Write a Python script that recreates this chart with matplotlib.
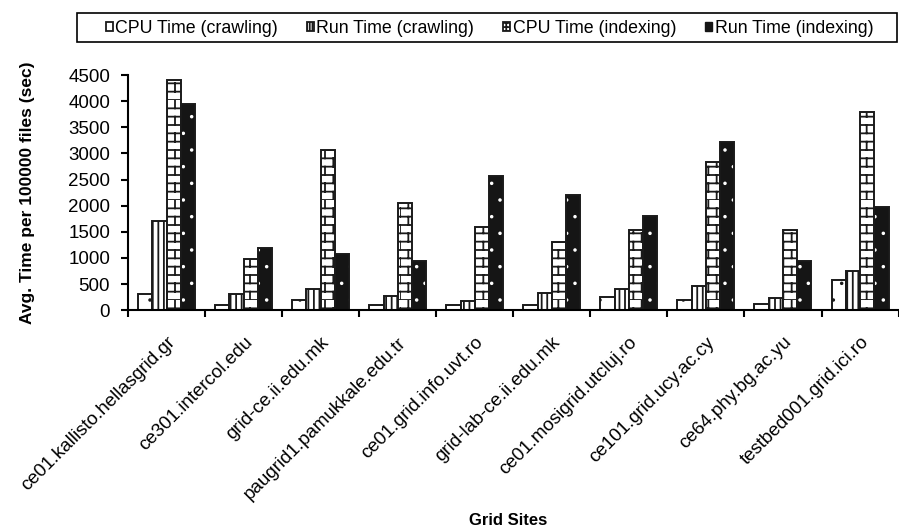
import matplotlib.pyplot as plt
import matplotlib.hatch as mhatch
import matplotlib.transforms as mtrans
import numpy as np
from matplotlib.patches import Patch, Rectangle
from matplotlib.path import Path

plt.rcParams['font.family'] = ['Liberation Sans', 'DejaVu Sans']
plt.rcParams['hatch.linewidth'] = 1.3


# brick pattern ('b') and tiny sparse dots ('d') as extra hatch styles
class Bricks(mhatch.HatchPatternBase):
    def __init__(self, hatch, density):
        self.num_rows = hatch.count('b') * density
        self.num_cols = self.num_rows // 2
        self.num_vertices = self.num_rows * 2 * (1 + self.num_cols)

    def set_vertices_and_codes(self, vertices, codes):
        n, m = self.num_rows, self.num_cols
        v = []
        for i in range(n):
            y0, y1 = i / n, (i + 1) / n
            v += [(0, y0), (1, y0)]
            sh = 0.5 if i % 2 else 0.0
            for k in range(m):
                xx = (k + sh) / m
                v += [(xx, y0), (xx, y1)]
        vertices[:] = v
        codes[0::2] = Path.MOVETO
        codes[1::2] = Path.LINETO


class TinyDots(mhatch.Circles):
    size = 0.05
    filled = True

    def __init__(self, hatch, density):
        self.num_rows = hatch.count('d') * density
        super().__init__(hatch, density)


mhatch._hatch_types.extend([Bricks, TinyDots])

sites = ["ce01.kallisto.hellasgrid.gr", "ce301.intercol.edu", "grid-ce.ii.edu.mk",
         "paugrid1.pamukkale.edu.tr", "ce01.grid.info.uvt.ro", "grid-lab-ce.ii.edu.mk",
         "ce01.mosigrid.utcluj.ro", "ce101.grid.ucy.ac.cy", "ce64.phy.bg.ac.yu",
         "testbed001.grid.ici.ro"]
cpu_crawl = [300, 100, 200, 100, 100, 100, 260, 200, 110, 570]
run_crawl = [1700, 300, 400, 270, 170, 330, 410, 470, 240, 750]
cpu_index = [4400, 970, 3070, 2060, 1590, 1300, 1540, 2840, 1530, 3800]
run_index = [3950, 1180, 1080, 950, 2560, 2210, 1810, 3210, 950, 1970]
labels = ["CPU Time (crawling)", "Run Time (crawling)", "CPU Time (indexing)", "Run Time (indexing)"]

fig = plt.figure(figsize=(8.99, 5.32), dpi=100)
ax = fig.add_axes([0.1425, 0.417, 0.857, 0.442])

x = np.arange(len(sites))
w = 0.185
offs = [-1.5 * w, -0.5 * w, 0.5 * w, 1.5 * w]
ec = "#1a1a1a"

ax.bar(x + offs[0], cpu_crawl, w, color="white", edgecolor=ec, hatch="d", lw=1.4)
ax.bar(x + offs[1], run_crawl, w, color="white", edgecolor=ec, hatch="|||", lw=1.4)
ax.bar(x + offs[2], cpu_index, w, color="white", edgecolor=ec, hatch="bb", lw=1.4)
# black bars with white dots: hatch in white, then outline on top
ax.bar(x + offs[3], run_index, w, color="#151515", edgecolor="white", hatch="d", lw=0)
ax.bar(x + offs[3], run_index, w, fill=False, edgecolor=ec, lw=1.4)

ax.set_xlim(-0.5, len(sites) - 0.5)
ax.set_ylim(0, 4500)
ax.set_yticks(np.arange(0, 4501, 500))
ax.set_xticks(np.arange(len(sites) + 1) - 0.5)
ax.set_xticklabels([])
ax.set_xticks(x, minor=True)
ax.set_xticklabels(sites, minor=True, rotation=45, ha="right", va="top",
                   rotation_mode="anchor", fontsize=13.5)
shift = mtrans.ScaledTranslation(2 / 72, 0, fig.dpi_scale_trans)
for lbl in ax.get_xticklabels(minor=True):
    lbl.set_transform(lbl.get_transform() + shift)
ax.tick_params(axis="x", which="minor", length=0, pad=17)
ax.tick_params(axis="x", which="major", length=5, width=1.5, direction="out")
ax.tick_params(axis="y", length=5, width=1.5, direction="out", labelsize=13.5, pad=8)

for s in ["top", "right"]:
    ax.spines[s].set_visible(False)
for s in ["left", "bottom"]:
    ax.spines[s].set_linewidth(1.5)

ax.set_ylabel("Avg. Time per 100000 files (sec)", fontweight="bold", fontsize=12.5)
ax.yaxis.set_label_coords(-0.121, 0.5)
fig.text(0.565, 0.008, "Grid Sites", ha="center", va="bottom", fontweight="bold", fontsize=12)

handles = [
    Patch(facecolor="white", edgecolor=ec, lw=1.3),
    Patch(facecolor="white", edgecolor=ec, hatch="||||||", lw=1.3),
    Patch(facecolor="white", edgecolor=ec, hatch="++++", lw=1.3),
    Patch(facecolor="#151515", edgecolor="#151515"),
]
fig.legend(handles, labels, loc="center", bbox_to_anchor=(0.5445, 0.947), ncol=4,
           fontsize=12.75, frameon=False, handlelength=0.4, handleheight=0.45,
           handletextpad=0.12, columnspacing=1.65)
fig.patches.append(Rectangle((77 / 899, 1 - 42 / 532), 820 / 899, 29 / 532,
                             transform=fig.transFigure, fill=False, edgecolor="black", lw=1.2))

fig.savefig("out.png", dpi=100)
